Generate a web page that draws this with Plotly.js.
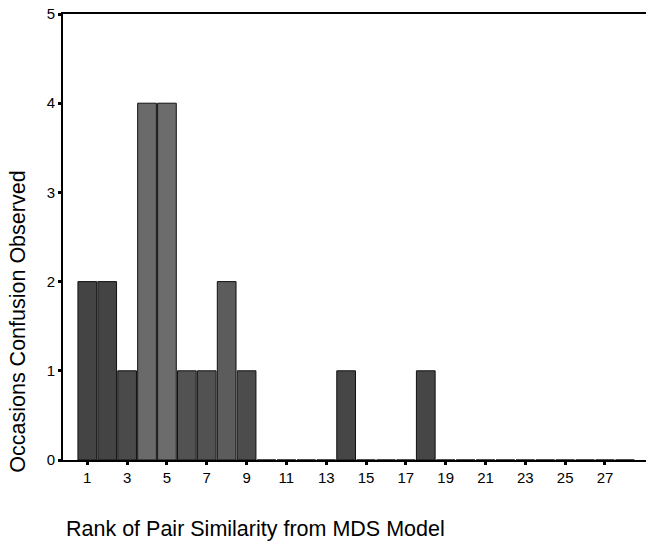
<!DOCTYPE html>
<html>
<head>
<meta charset="utf-8">
<script src="https://cdn.plot.ly/plotly-3.0.1.min.js"></script>
<style>
html,body{margin:0;padding:0;background:#fff;}
#chart{width:646px;height:541px;}
</style>
</head>
<body>
<div id="chart"></div>
<script>
// Rank of pair similarity (categories)
const ranks = [1,2,3,4,5,6,7,8,9,10,11,12,13,14,15,16,17,18,19,20,21,22,23,24,25,26,27,28];
// Occasions confusion observed
const counts = [2,2,1,4,4,1,1,2,1,0,0,0,0,1,0,0,0,1,0,0,0,0,0,0,0,0,0,0];
// bar shades
const shades = ['#444444','#444444','#4a4a4a','#6a6a6a','#6c6c6c','#525252','#525252','#5c5c5c','#4c4c4c','#444444','#444444','#444444','#444444','#464646','#444444','#444444','#444444','#464646','#444444','#444444','#444444','#444444','#444444','#444444','#444444','#444444','#444444','#444444'];
const xTicks = [1,3,5,7,9,11,13,15,17,19,21,23,25,27];
const yTicks = [0,1,2,3,4,5];
const xTitle = 'Rank of Pair Similarity from MDS Model';
const yTitle = 'Occasions Confusion Observed';

const font = 'Liberation Sans, Arial, Helvetica, sans-serif';

const trace = {
  type: 'bar',
  x: ranks,
  y: counts,
  width: 0.94,
  marker: {
    color: shades,
    line: {color: '#111', width: 1}
  },
  hoverinfo: 'x+y'
};

const layout = {
  width: 646, height: 541,
  margin: {l: 63, r: 0, t: 14, b: 81},
  paper_bgcolor: '#fff', plot_bgcolor: '#fff',
  showlegend: false,
  bargap: 0,
  font: {family: font, color: '#000', size: 15},
  xaxis: {
    range: [-0.22, 29.06],
    tickmode: 'array', tickvals: xTicks, ticktext: xTicks.map(String),
    showgrid: false, zeroline: false,
    showline: true, linecolor: '#000', linewidth: 2, mirror: true,
    ticks: 'outside', ticklen: 3, tickwidth: 3, tickcolor: '#000',
    tickfont: {size: 15, family: font, color: '#000'}
  },
  yaxis: {
    range: [0, 5],
    tickmode: 'array', tickvals: yTicks, ticktext: yTicks.map(String),
    showgrid: false, zeroline: false,
    showline: true, linecolor: '#000', linewidth: 2,
    ticks: 'outside', ticklen: 3, tickwidth: 3, tickcolor: '#000',
    tickfont: {size: 15, family: font, color: '#000'}
  },
  annotations: [
    {text: xTitle, xref: 'paper', yref: 'paper', x: 0, y: 0,
     xanchor: 'left', yanchor: 'middle', xshift: 1, yshift: -69,
     showarrow: false, font: {size: 21.5, family: font, color: '#000'}},
    {text: yTitle, xref: 'paper', yref: 'paper', x: 0, y: 0.31,
     xanchor: 'center', yanchor: 'middle', xshift: -45, textangle: -90,
     showarrow: false, font: {size: 21.5, family: font, color: '#000'}}
  ]
};

Plotly.newPlot('chart', [trace], layout, {displayModeBar: false, staticPlot: true});
</script>
</body>
</html>
